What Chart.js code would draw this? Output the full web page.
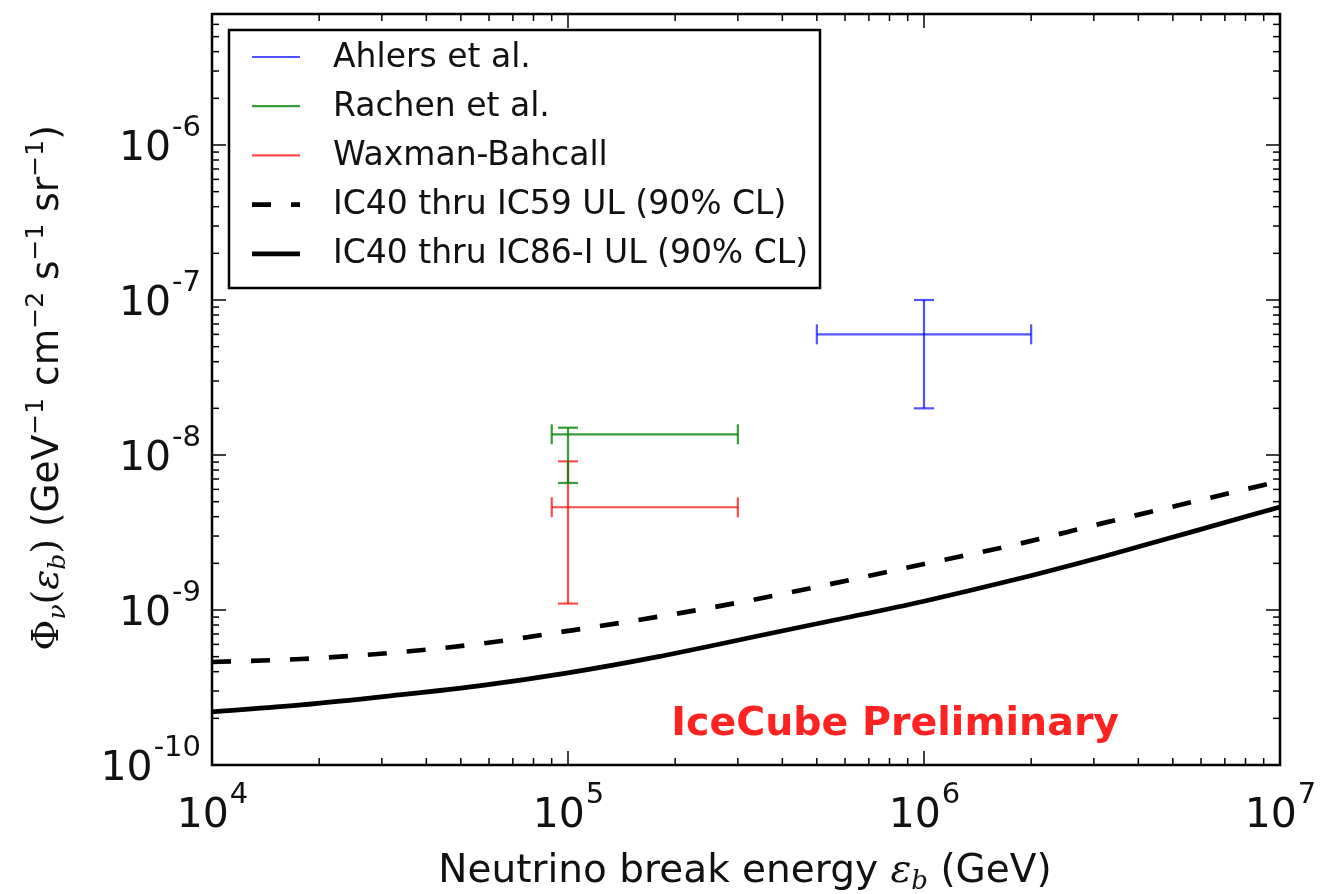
<!DOCTYPE html>
<html><head><meta charset="utf-8">
<script src="https://cdn.jsdelivr.net/npm/chart.js@4.4.1/dist/chart.umd.min.js"></script>
<style>html,body{margin:0;padding:0;background:#fff}canvas{display:block}</style>
</head><body>
<canvas id="c" width="1334" height="894"></canvas>
<script>
// ---------- data ----------
const curveEnergies = [1e4, 1.78e4, 3.16e4, 5.62e4, 1e5, 1.78e5, 3.16e5, 5.62e5, 1e6, 1.78e6, 3.16e6, 5.62e6, 1e7];
const ulIC59 = [4.62e-10, 4.83e-10, 5.28e-10, 6.04e-10, 7.33e-10, 9.02e-10, 1.14e-9, 1.49e-9, 1.98e-9, 2.62e-9, 3.62e-9, 4.95e-9, 6.79e-9];
const ulIC86 = [2.20e-10, 2.44e-10, 2.79e-10, 3.24e-10, 3.93e-10, 4.98e-10, 6.55e-10, 8.61e-10, 1.14e-9, 1.56e-9, 2.20e-9, 3.18e-9, 4.62e-9];
const curveNames = ['IC40 thru IC59 UL (90% CL)', 'IC40 thru IC86-I UL (90% CL)'];

const models = ['Ahlers et al.', 'Rachen et al.', 'Waxman-Bahcall'];
const modelBreak   = [1e6, 1e5, 1e5];
const modelBreakLo = [5e5, 9e4, 9e4];
const modelBreakHi = [2e6, 3e5, 3e5];
const modelFlux    = [6e-8, 1.36e-8, 4.6e-9];
const modelFluxLo  = [2e-8, 6.6e-9, 1.1e-9];
const modelFluxHi  = [1e-7, 1.5e-8, 9.1e-9];

const xTickValues = [1e4, 1e5, 1e6, 1e7];
const xTickExps   = ['4', '5', '6', '7'];
const yTickValues = [1e-10, 1e-9, 1e-8, 1e-7, 1e-6];
const yTickExps   = ['-10', '-9', '-8', '-7', '-6'];
const xRange = [1e4, 1e7];
const yRange = [1e-10, 7e-6];

const annotText = 'IceCube Preliminary';
const annotX = 8.3e5, annotY = 1.56e-10;

// ---------- styles ----------
const modelColors = ['rgba(0,0,255,0.68)', 'rgba(0,128,0,0.78)', 'rgba(255,0,0,0.7)'];
const SANS = '"DejaVu Sans", sans-serif';
const SERIF = '"DejaVu Serif", serif';

const datasets = [];
models.forEach((name, i) => {
  const c = modelColors[i];
  datasets.push({
    label: name, inLegend: true,
    data: [{x: modelBreakLo[i], y: modelFlux[i]}, {x: modelBreakHi[i], y: modelFlux[i]}],
    borderColor: c, borderWidth: 2.2, pointStyle: 'line', pointRadius: 10, pointHoverRadius: 10,
    pointRotation: 90, pointBorderColor: c, pointBorderWidth: 2.2, pointBackgroundColor: c, fill: false
  });
  datasets.push({
    label: name + ' flux range', inLegend: false,
    data: [{x: modelBreak[i], y: modelFluxLo[i]}, {x: modelBreak[i], y: modelFluxHi[i]}],
    borderColor: c, borderWidth: 2.2, pointStyle: 'line', pointRadius: 10, pointHoverRadius: 10,
    pointRotation: 0, pointBorderColor: c, pointBorderWidth: 2.2, pointBackgroundColor: c, fill: false
  });
});
datasets.push({
  label: curveNames[0], inLegend: true,
  data: curveEnergies.map((x, i) => ({x, y: ulIC59[i]})),
  borderColor: '#000', borderWidth: 4.7, borderDash: [19, 20], borderCapStyle: 'butt',
  pointRadius: 0, cubicInterpolationMode: 'monotone', fill: false
});
datasets.push({
  label: curveNames[1], inLegend: true,
  data: curveEnergies.map((x, i) => ({x, y: ulIC86[i]})),
  borderColor: '#000', borderWidth: 4.7, pointRadius: 0, cubicInterpolationMode: 'monotone', fill: false
});

function minorValues(min, max) {
  const out = [];
  for (let e = Math.floor(Math.log10(min)) - 1; e <= Math.ceil(Math.log10(max)); e++)
    for (let m = 2; m <= 9; m++) { const v = m * Math.pow(10, e); if (v > min * 1.0001 && v < max * 0.9999) out.push(v); }
  return out;
}

function drawRuns(ctx, runs, cx, baseline) {
  let total = 0;
  runs.forEach(r => { ctx.font = r.f; r.w = ctx.measureText(r.t).width; total += r.w; });
  let x = cx - total / 2;
  runs.forEach(r => { ctx.font = r.f; ctx.fillText(r.t, x, baseline + (r.dy || 0)); x += r.w; });
}

const decor = {
  id: 'decor',
  afterDatasetsDraw(chart) {
    const ctx = chart.ctx, a = chart.chartArea, xs = chart.scales.x, ys = chart.scales.y;
    ctx.save();
    // inward ticks on all four sides
    ctx.strokeStyle = '#000'; ctx.lineWidth = 1.5;
    const tick = (x1, y1, x2, y2) => { ctx.beginPath(); ctx.moveTo(x1, y1); ctx.lineTo(x2, y2); ctx.stroke(); };
    xTickValues.forEach(v => { const p = xs.getPixelForValue(v); tick(p, a.bottom, p, a.bottom - 14); tick(p, a.top, p, a.top + 14); });
    minorValues(xRange[0], xRange[1]).forEach(v => { const p = xs.getPixelForValue(v); tick(p, a.bottom, p, a.bottom - 7); tick(p, a.top, p, a.top + 7); });
    yTickValues.forEach(v => { const p = ys.getPixelForValue(v); tick(a.left, p, a.left + 14, p); tick(a.right, p, a.right - 14, p); });
    minorValues(yRange[0], yRange[1]).forEach(v => { const p = ys.getPixelForValue(v); tick(a.left, p, a.left + 7, p); tick(a.right, p, a.right - 7, p); });
    // frame
    ctx.lineWidth = 2.5;
    ctx.strokeRect(a.left, a.top, a.right - a.left, a.bottom - a.top);

    // tick labels
    ctx.fillStyle = '#111'; ctx.textBaseline = 'alphabetic'; ctx.textAlign = 'left';
    const big = '41px ' + SANS, small = '29px ' + SANS;
    xTickValues.forEach((v, i) => {
      const p = xs.getPixelForValue(v);
      ctx.font = big; const w1 = ctx.measureText('10').width;
      ctx.font = small; const w2 = ctx.measureText(xTickExps[i]).width;
      const x0 = p - (w1 + w2) / 2, base = a.bottom + 62;
      ctx.font = big; ctx.fillText('10', x0, base);
      ctx.font = small; ctx.fillText(xTickExps[i], x0 + w1 + 1, base - 24);
    });
    yTickValues.forEach((v, i) => {
      const p = ys.getPixelForValue(v);
      ctx.font = big; const w1 = ctx.measureText('10').width;
      ctx.font = small; const w2 = ctx.measureText(yTickExps[i]).width;
      const right = a.left - 11, base = p + 15;
      ctx.font = big; ctx.fillText('10', right - w2 - 1 - w1, base);
      ctx.font = small; ctx.fillText(yTickExps[i], right - w2, base - 24);
    });

    // x title
    const tf = '39px ' + SANS, tfi = 'italic 39px ' + SERIF, tfs = 'italic 26px ' + SERIF;
    drawRuns(ctx, [
      {t: 'Neutrino break energy ', f: tf},
      {t: 'ε', f: tfi}, {t: 'b', f: tfs, dy: 7},
      {t: ' (GeV)', f: tf}
    ], (a.left + a.right) / 2 - 1, 882);

    // y title (rotated)
    ctx.save();
    ctx.translate(58, 388);
    ctx.rotate(-Math.PI / 2);
    const yf = '37.5px ' + SANS, yfs = 'italic 25px ' + SERIF, yfi = 'italic 37.5px ' + SERIF, sup = '25px ' + SANS;
    drawRuns(ctx, [
      {t: 'Φ', f: '38px ' + SERIF}, {t: 'ν', f: yfs, dy: 7},
      {t: '(', f: '37.5px ' + SERIF}, {t: 'ε', f: yfi}, {t: 'b', f: yfs, dy: 7}, {t: ')', f: '37.5px ' + SERIF},
      {t: ' (GeV', f: yf}, {t: '−1', f: sup, dy: -15},
      {t: ' cm', f: yf}, {t: '−2', f: sup, dy: -15},
      {t: ' s', f: yf}, {t: '−1', f: sup, dy: -15},
      {t: ' sr', f: yf}, {t: '−1', f: sup, dy: -15},
      {t: ')', f: yf}
    ], 0, 0);
    ctx.restore();

    // annotation
    ctx.fillStyle = '#ff2222';
    ctx.font = 'bold 39.5px ' + SANS; ctx.textAlign = 'center';
    ctx.fillText(annotText, xs.getPixelForValue(annotX), ys.getPixelForValue(annotY));
    ctx.textAlign = 'left';

    // legend
    const L = {x: 229, y: 30, w: 591, h: 258, row0: 57, dy: 49.2};
    ctx.fillStyle = '#fff'; ctx.fillRect(L.x, L.y, L.w, L.h);
    ctx.strokeStyle = '#000'; ctx.lineWidth = 2.5; ctx.strokeRect(L.x, L.y, L.w, L.h);
    let k = 0;
    chart.data.datasets.forEach(ds => {
      if (!ds.inLegend) return;
      const y = L.row0 + k * L.dy;
      ctx.save();
      ctx.strokeStyle = ds.borderColor; ctx.lineWidth = ds.borderWidth; ctx.lineCap = 'butt';
      ctx.setLineDash(ds.borderDash || []);
      ctx.beginPath(); ctx.moveTo(252, y); ctx.lineTo(300, y); ctx.stroke();
      ctx.restore();
      ctx.fillStyle = '#111'; ctx.font = '33px ' + SANS; ctx.textBaseline = 'middle';
      ctx.fillText(ds.label, 333, y + 1);
      ctx.textBaseline = 'alphabetic';
      k++;
    });
    ctx.restore();
  }
};

const bg = {
  id: 'bg',
  beforeDraw(chart) { const c = chart.ctx; c.save(); c.fillStyle = '#fff'; c.fillRect(0, 0, chart.width, chart.height); c.restore(); }
};

new Chart(document.getElementById('c'), {
  type: 'line',
  data: { datasets },
  options: {
    responsive: false, animation: false, devicePixelRatio: 1,
    layout: { padding: { left: 0, right: 54, top: 14, bottom: 0 } },
    plugins: { legend: { display: false }, tooltip: { enabled: false } },
    scales: {
      x: {
        type: 'logarithmic', min: xRange[0], max: xRange[1],
        afterBuildTicks: s => { s.ticks = xTickValues.map(v => ({value: v})); },
        ticks: { display: false }, grid: { display: false }, border: { display: false },
        afterFit: s => { s.height = 129; }
      },
      y: {
        type: 'logarithmic', min: yRange[0], max: yRange[1],
        afterBuildTicks: s => { s.ticks = yTickValues.map(v => ({value: v})); },
        ticks: { display: false }, grid: { display: false }, border: { display: false },
        afterFit: s => { s.width = 212; }
      }
    }
  },
  plugins: [bg, decor]
});
</script>
</body></html>
